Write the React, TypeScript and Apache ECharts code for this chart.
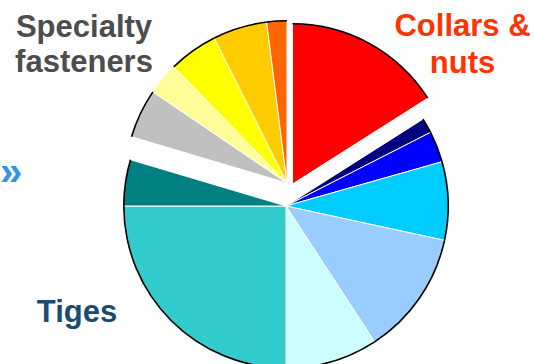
import React, { useEffect, useRef } from 'react';
import * as echarts from 'echarts';

// Slices, clockwise from 12 o'clock
const sliceNames = [
  'Collars & nuts',
  'Navy segment',
  'Blue segment',
  'Cyan segment',
  'Light blue segment',
  'Pale cyan segment',
  'Tiges',
  'Teal segment',
  'Grey segment',
  'Pale yellow segment',
  'Yellow segment',
  'Gold segment',
  'Orange segment',
];
const sliceValues = [16.0, 1.5, 3.1, 7.8, 12.4, 9.2, 25.0, 4.6, 4.9, 3.2, 4.9, 5.4, 2.0];
const sliceGroups = [
  'collars', 'main', 'main', 'main', 'main', 'main', 'main', 'main',
  'specialty', 'specialty', 'specialty', 'specialty', 'specialty',
];
const sliceColors = [
  '#FF0000', '#000080', '#0000FF', '#00CCFF', '#99CCFF', '#CCFFFF', '#33CCCC', '#008080',
  '#C0C0C0', '#FFFF99', '#FFFF00', '#FFCC00', '#FF6600',
];
const rimShown = [true, true, true, true, true, true, true, true, true, false, true, true, true];

const labelLines = ['Specialty', 'fasteners', 'Collars &', 'nuts', 'Tiges', '»'];

const FONT = '"Liberation Sans", Arial, Helvetica, sans-serif';

export default function App() {
  const ref = useRef<HTMLDivElement>(null);

  useEffect(() => {
    if (!ref.current) return;
    const chart = echarts.init(ref.current, undefined, { renderer: 'svg' });

    const groupLayout: Record<string, { center: number[]; r: number }> = {
      main: { center: [286, 206], r: 163 },
      specialty: { center: [287, 183], r: 163 },
      collars: { center: [292.5, 184], r: 161 },
    };

    const series: any[] = [];
    Object.keys(groupLayout).forEach((g) => {
      const { center, r } = groupLayout[g];
      const common = {
        type: 'pie',
        center,
        startAngle: 90,
        clockwise: true,
        silent: true,
        label: { show: false },
        labelLine: { show: false },
        emphasis: { disabled: true },
        avoidLabelOverlap: false,
      };
      series.push({
        ...common,
        radius: [0, r],
        data: sliceValues.map((v, i) => ({
          name: sliceNames[i],
          value: v,
          itemStyle:
            sliceGroups[i] === g
              ? { color: sliceColors[i], borderColor: '#FFFFFF', borderWidth: 1 }
              : { color: 'transparent', borderWidth: 0 },
        })),
      });
      series.push({
        ...common,
        radius: [r - 1.6, r],
        data: sliceValues.map((v, i) => ({
          name: sliceNames[i],
          value: v,
          itemStyle: {
            color: sliceGroups[i] === g && rimShown[i] ? '#000000' : 'transparent',
            borderWidth: 0,
          },
        })),
      });
    });

    const textStyle = (text: string, fill: string, size = 31) => ({
      text,
      fill,
      font: `bold ${size}px ${FONT}`,
      textAlign: 'center',
      textVerticalAlign: 'middle',
    });

    chart.setOption({
      animation: false,
      backgroundColor: '#FFFFFF',
      series,
      graphic: [
        { type: 'text', x: 84, y: 26, silent: true, style: textStyle(labelLines[0], '#4D4D4D') },
        { type: 'text', x: 84, y: 61, silent: true, style: textStyle(labelLines[1], '#4D4D4D') },
        { type: 'text', x: 462.5, y: 25, silent: true, style: textStyle(labelLines[2], '#FF3300') },
        { type: 'text', x: 462.5, y: 62, silent: true, style: textStyle(labelLines[3], '#FF3300') },
        { type: 'text', x: 77, y: 311, silent: true, style: textStyle(labelLines[4], '#1A4B73') },
        {
          type: 'text',
          x: 0,
          y: 171,
          silent: true,
          style: { ...textStyle(labelLines[5], '#2D96E6', 40), textAlign: 'left' },
        },
      ],
    });

    return () => chart.dispose();
  }, []);

  return (
    <div
      ref={ref}
      style={{ position: 'fixed', left: 0, top: 0, width: 534, height: 364 }}
    />
  );
}
